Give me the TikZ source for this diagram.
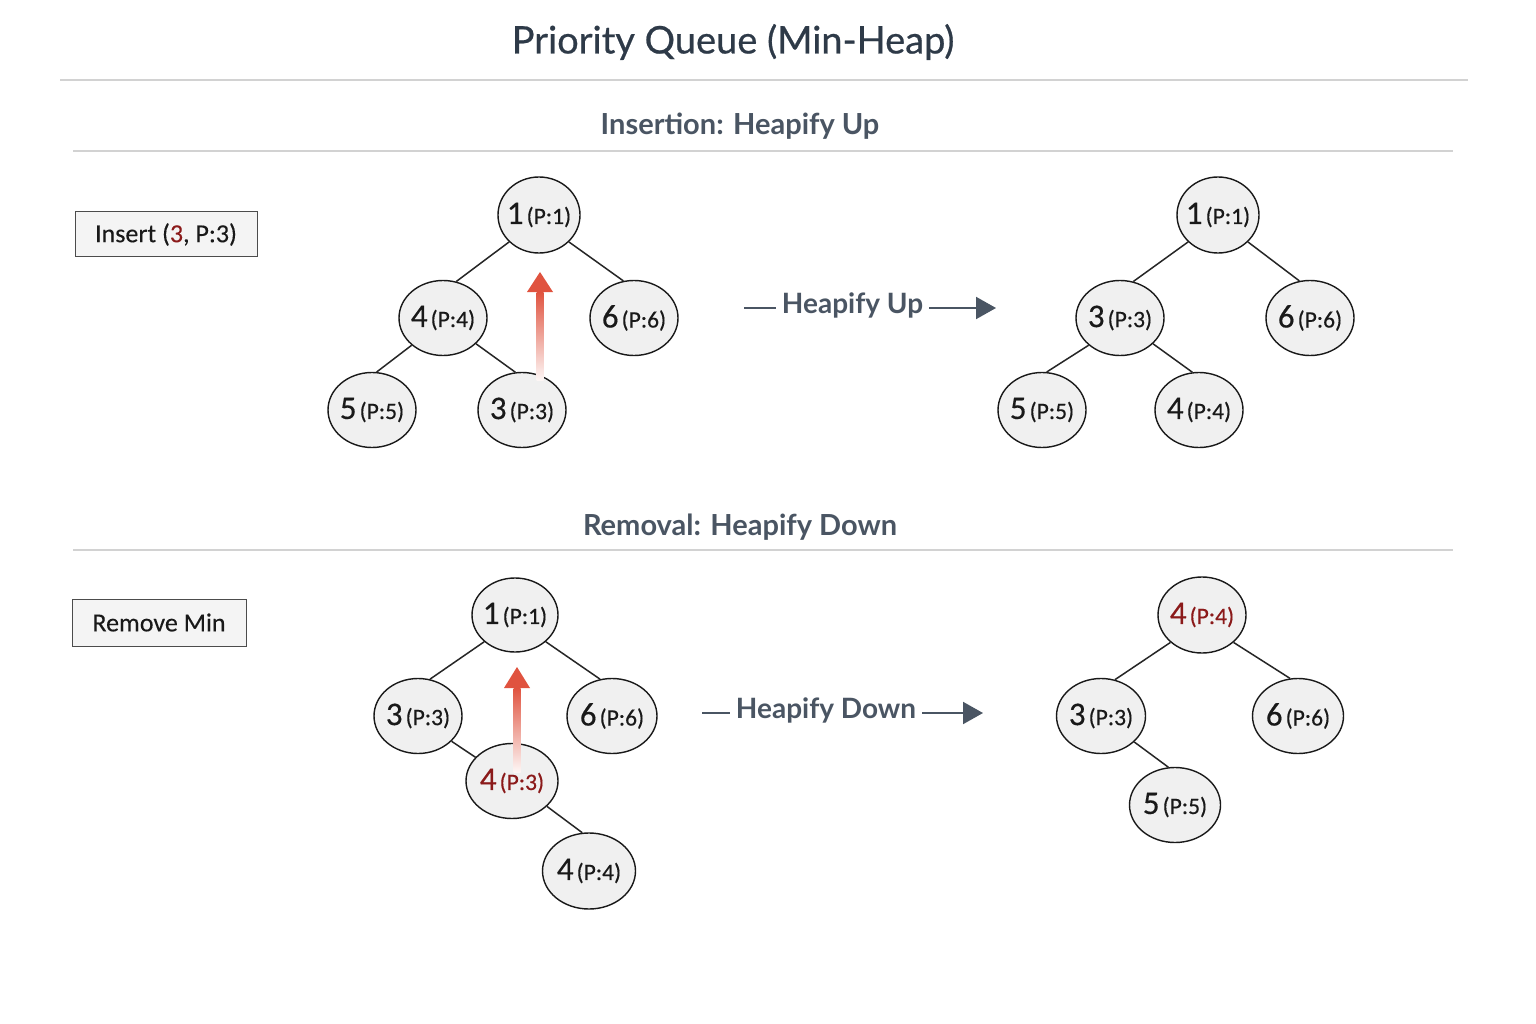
\documentclass[tikz,border=0pt]{standalone}
\usepackage{fontspec}
\setmainfont{Lato}
\newfontfamily\titlefont{Lato}[FakeBold=0.6]
\newfontfamily\nodefont{Carlito}[FakeBold=0.4]
\newfontfamily\boxfont{Carlito}[FakeBold=0.2]
\usetikzlibrary{shapes.geometric,arrows.meta,calc}
\definecolor{titlec}{HTML}{2E3A48}
\definecolor{headc}{HTML}{4A5563}
\definecolor{rulec}{HTML}{D2D2D2}
\definecolor{nodefill}{HTML}{F0F0F0}
\definecolor{darkred}{HTML}{8B1A1A}
\definecolor{arrred}{HTML}{E0533F}
\definecolor{boxfill}{HTML}{F4F4F4}
\newcommand\hv[2]{{\fontsize{33}{33}\selectfont #1}\hspace{3pt}{\fontsize{23.5}{24}\selectfont(P:#2)}}
\begin{document}
\begin{tikzpicture}[x=1pt,y=-1pt,
  heap/.style={ellipse,draw=black!90,line width=1.4pt,fill=nodefill,minimum width=88pt,minimum height=75pt,inner xsep=-14pt,inner ysep=0pt,font=\nodefont,text=black!90},
  edge/.style={draw=black!85,line width=1.5pt},
  opbox/.style={draw=black!70,line width=1pt,fill=boxfill,font=\boxfont\fontsize{26}{30}\selectfont,text=black!90,inner sep=0pt},
  sechead/.style={font=\bfseries\fontsize{29}{32}\selectfont,text=headc},
  rule/.style={draw=rulec,line width=1.2pt},
  steplabel/.style={font=\bfseries\fontsize{28}{32}\selectfont,text=headc,inner xsep=6pt},
  stepline/.style={draw=headc,line width=2pt},
  stepline2/.style={draw=headc,line width=2pt,-{Triangle[length=20pt,width=22pt]}},
  uparrowhead/.style={fill=arrred,draw=none}
]
\useasboundingbox (0,0) rectangle (1536,1024);
\fill[white] (0,0) rectangle (1536,1024);

% title and rules
\node[font=\titlefont\fontsize{38}{40}\selectfont,text=titlec] (title) at (733,42) {Priority Queue (Min-Heap)};
\coordinate (r1a) at (60,80); \coordinate (r1b) at (1468,80);
\draw[rule] (r1a) -- (r1b);
\node[sechead] (h1) at (740,126) {Insertion: Heapify Up};
\coordinate (r2a) at (73,151); \coordinate (r2b) at (1453,151);
\draw[rule] (r2a) -- (r2b);
\node[sechead] (h2) at (740,527) {Removal: Heapify Down};
\coordinate (r3a) at (73,550); \coordinate (r3b) at (1453,550);
\draw[rule] (r3a) -- (r3b);

% operation boxes
\node[opbox,minimum width=182pt,minimum height=45pt] (ins) at (166,234.5) {Insert ({\color{darkred}3}, P:3)};
\node[opbox,minimum width=174pt,minimum height=47pt] (rem) at (159,622.5) {Remove Min};

% ---------- top tree (before)
\node[heap,minimum width=82pt,minimum height=76pt] (a1) at (539,215) {\hv{1}{1}};
\node[heap] (a4) at (443,318) {\hv{4}{4}};
\node[heap] (a6) at (634,318) {\hv{6}{6}};
\node[heap] (a5) at (372,410) {\hv{5}{5}};
\node[heap] (a3) at (522,410) {\hv{3}{3}};
\draw[edge] (a1.222) -- (a4.70);
\draw[edge] (a1.318) -- (a6.106);
\draw[edge] (a4.221) -- (a5.83);
\draw[edge] (a4.322) -- (a3.100);
% red up arrow
\coordinate (ua0) at (540,380); \coordinate (ua1) at (540,292); \coordinate (ua2) at (540,272);
\shade[top color=arrred,bottom color=arrred!5] ($(ua1)+(-3.5,0)$) rectangle ($(ua0)+(3.5,0)$);
\fill[uparrowhead] (ua2) -- ($(ua1)+(-13,0)$) -- ($(ua1)+(13,0)$) -- cycle;

% step arrow top
\node[steplabel] (s1) at (852.5,305) {Heapify Up};
\coordinate (s1a) at (744,308); \coordinate (s1b) at (996,308);
\draw[stepline] (s1a) -- (s1a -| s1.west);
\draw[stepline2] (s1b -| s1.east) -- (s1b);

% ---------- top tree (after)
\node[heap,minimum width=82pt,minimum height=76pt] (b1) at (1218,215) {\hv{1}{1}};
\node[heap] (b3) at (1120,318) {\hv{3}{3}};
\node[heap] (b6) at (1310,318) {\hv{6}{6}};
\node[heap] (b5) at (1042,410) {\hv{5}{5}};
\node[heap] (b4) at (1199,410) {\hv{4}{4}};
\draw[edge] (b1.222) -- (b3.70);
\draw[edge] (b1.318) -- (b6.106);
\draw[edge] (b3.221) -- (b5.83);
\draw[edge] (b3.322) -- (b4.100);

% ---------- bottom tree (before)
\node[heap,minimum width=86pt,minimum height=74pt] (c1) at (515,615) {\hv{1}{1}};
\node[heap] (c3) at (418,716) {\hv{3}{3}};
\node[heap,minimum width=90pt] (c6) at (612,716) {\hv{6}{6}};
\node[heap,minimum width=92pt,text=darkred] (c4r) at (512,781) {\hv{4}{3}};
\node[heap,minimum width=93pt,minimum height=76pt] (c4) at (589,871) {\hv{4}{4}};
\draw[edge] (c1.221) -- (c3.72);
\draw[edge] (c1.319) -- (c6.108);
\draw[edge] (c3.323) -- (c4r.147);
\draw[edge] (c4r.324) -- (c4.100);
% red up arrow
\coordinate (da0) at (517,772); \coordinate (da1) at (517,688); \coordinate (da2) at (517,667);
\shade[top color=arrred,bottom color=arrred!5] ($(da1)+(-3.5,0)$) rectangle ($(da0)+(3.5,0)$);
\fill[uparrowhead] (da2) -- ($(da1)+(-13,0)$) -- ($(da1)+(13,0)$) -- cycle;

% step arrow bottom
\node[steplabel] (s2) at (826,710) {Heapify Down};
\coordinate (s2a) at (702,713); \coordinate (s2b) at (983,713);
\draw[stepline] (s2a) -- (s2a -| s2.west);
\draw[stepline2] (s2b -| s2.east) -- (s2b);

% ---------- bottom tree (after)
\node[heap,text=darkred,minimum height=76pt] (d4) at (1202,615) {\hv{4}{4}};
\node[heap,minimum width=89pt] (d3) at (1101,716) {\hv{3}{3}};
\node[heap,minimum width=91pt] (d6) at (1298,716) {\hv{6}{6}};
\node[heap,minimum width=91pt] (d5) at (1175,805) {\hv{5}{5}};
\draw[edge] (d4.221) -- (d3.69);
\draw[edge] (d4.319) -- (d6.102);
\draw[edge] (d3.322) -- (d5.100);
\end{tikzpicture}
\end{document}
